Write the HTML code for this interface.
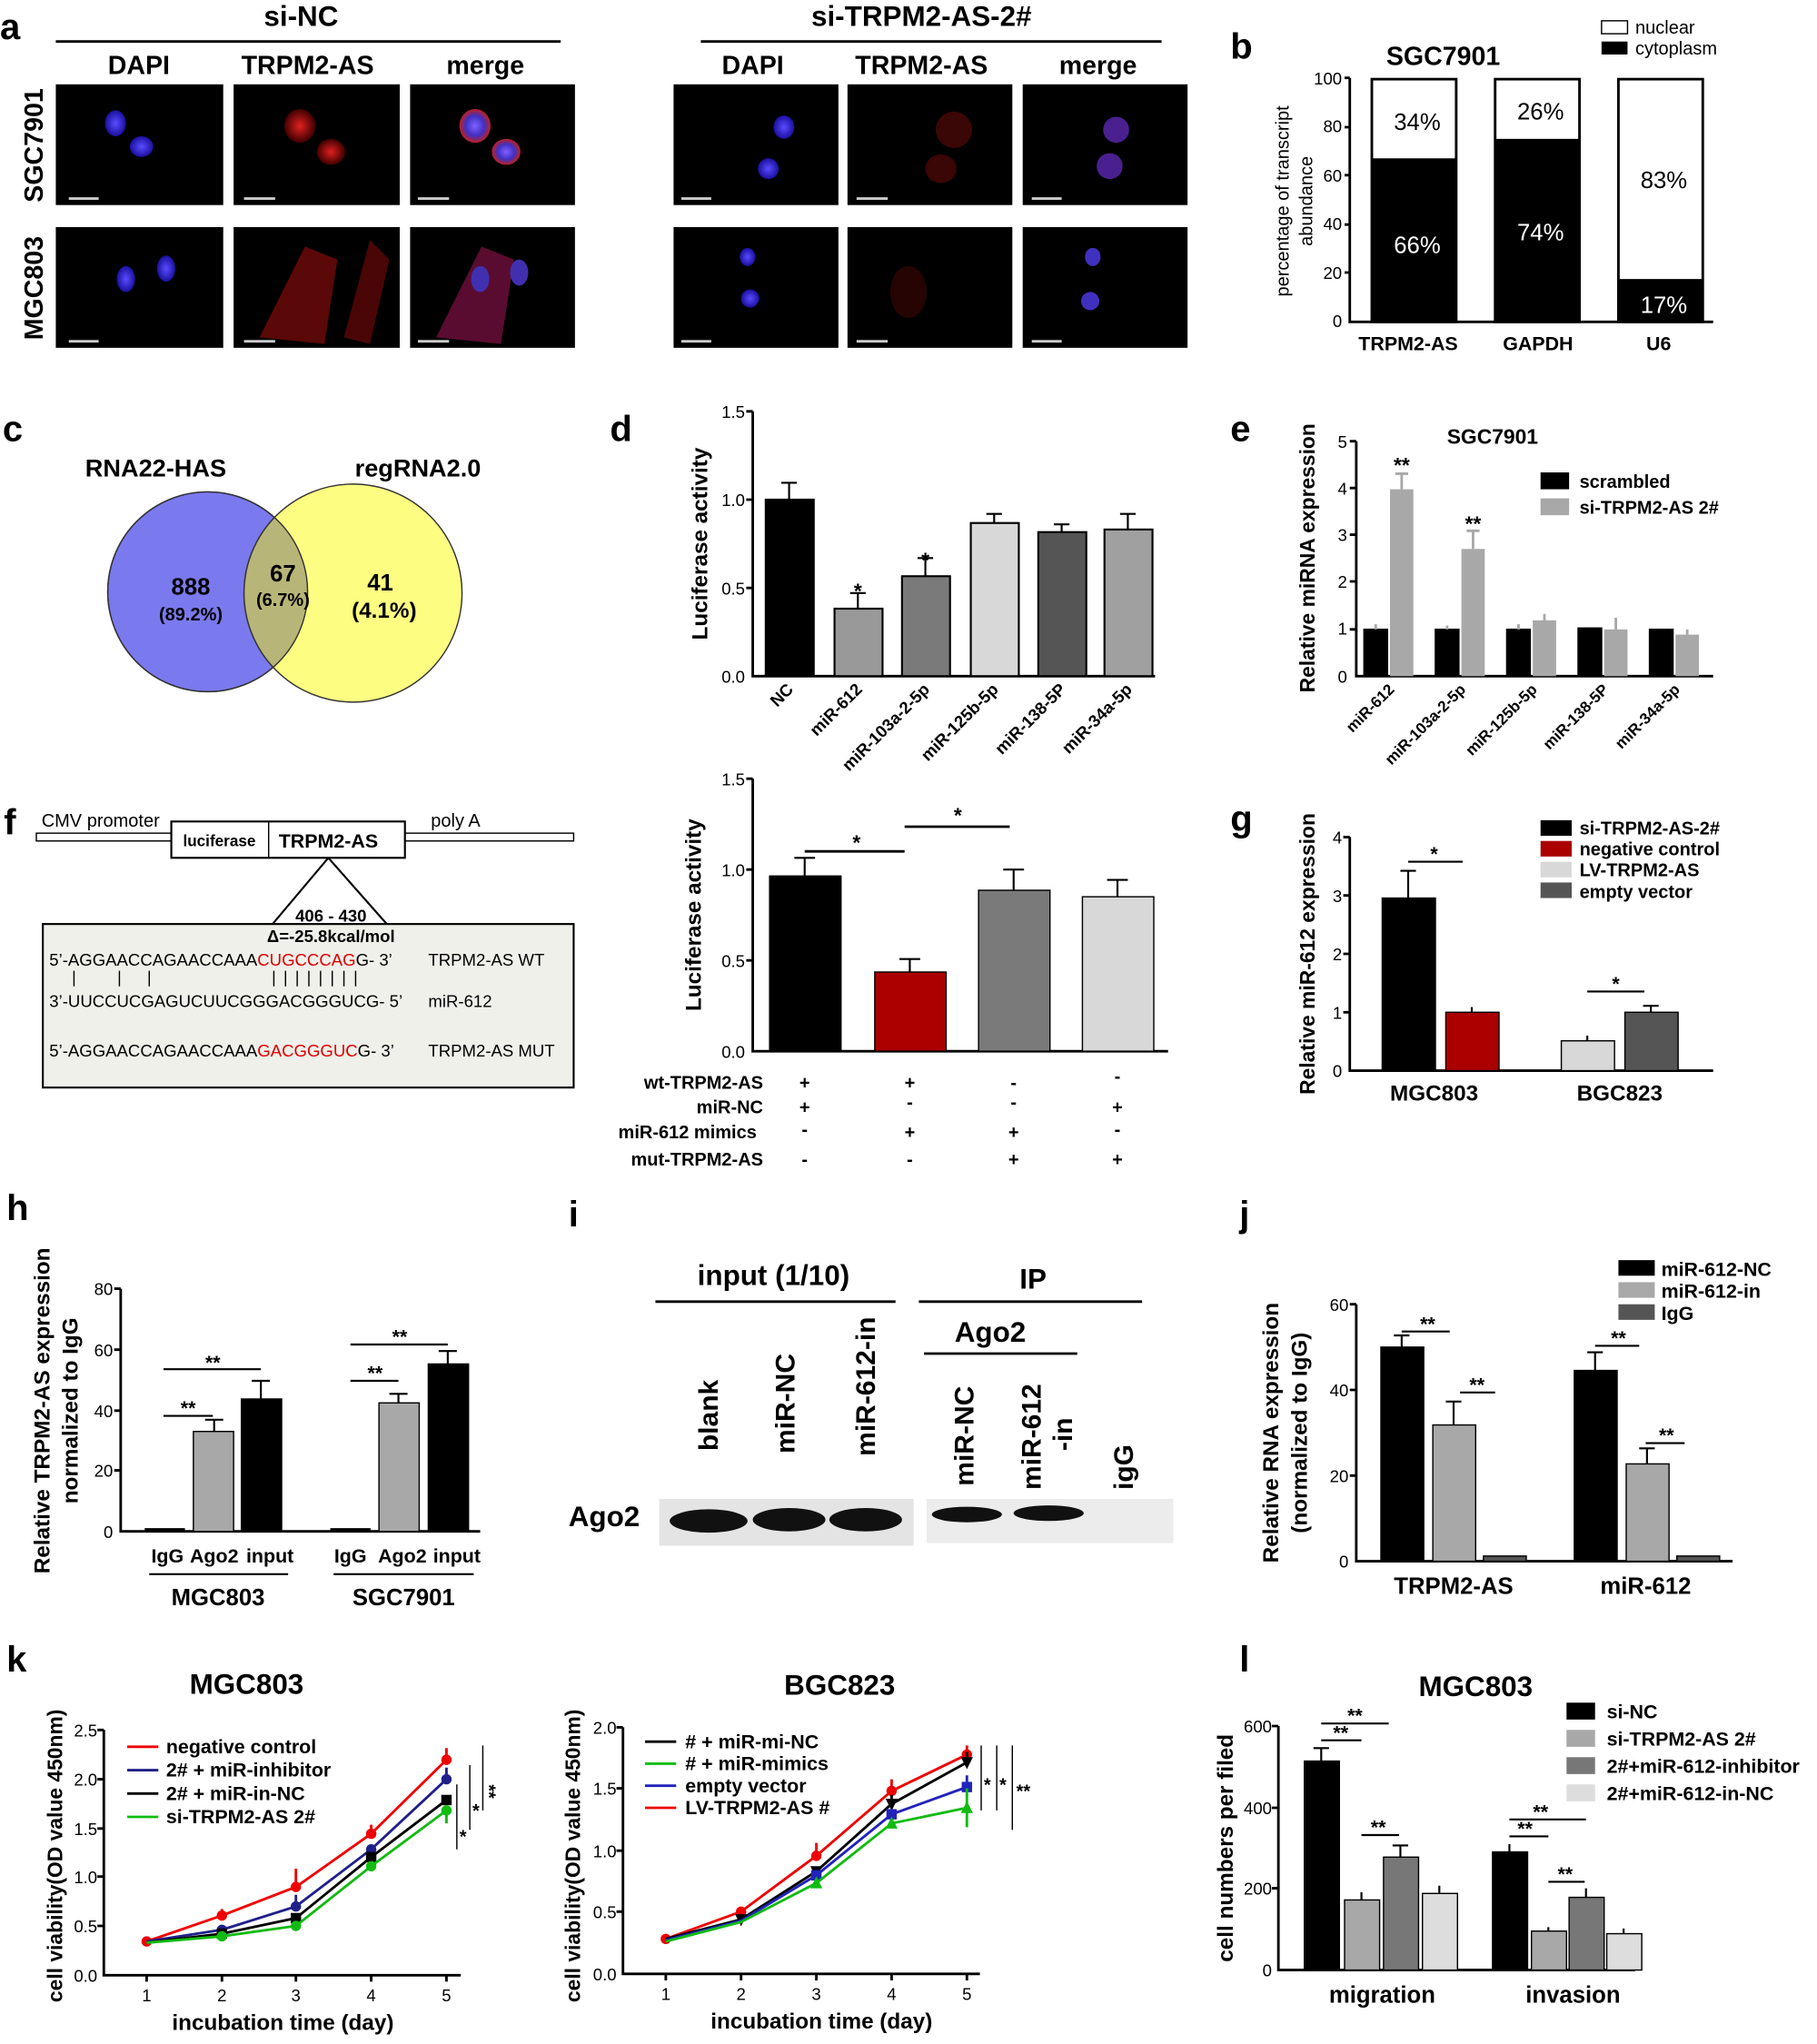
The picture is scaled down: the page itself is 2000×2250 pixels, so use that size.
<!DOCTYPE html>
<html><head><meta charset="utf-8"><style>html,body{margin:0;padding:0;background:#fff}svg{display:block}text{font-family:"Liberation Sans",Arial,sans-serif}</style></head>
<body>
<svg width="2000" height="2250" viewBox="0 0 1400 1575" xmlns="http://www.w3.org/2000/svg">
<defs>
<radialGradient id="bl"><stop offset="0" stop-color="#5a4cff"/><stop offset="1" stop-color="#1a10a0"/></radialGradient>
<radialGradient id="rd"><stop offset="0" stop-color="#e02020"/><stop offset="1" stop-color="#400000"/></radialGradient>
<radialGradient id="mg"><stop offset="0" stop-color="#8060ff"/><stop offset="0.6" stop-color="#4030c0"/><stop offset="1" stop-color="#c02020"/></radialGradient>
<clipPath id="cb"><circle cx="160" cy="456" r="77"/></clipPath>
</defs>
<g font-weight="bold">
<text x="0" y="30" font-size="28">a</text>
<text x="232" y="20" font-size="22" text-anchor="middle">si-NC</text>
<line x1="43" y1="32" x2="432" y2="32" stroke="#000" stroke-width="2"/>
<text x="710" y="20" font-size="22" text-anchor="middle">si-TRPM2-AS-2#</text>
<line x1="540" y1="32" x2="895" y2="32" stroke="#000" stroke-width="2"/>
<g font-size="20" text-anchor="middle">
<text x="107" y="57">DAPI</text><text x="237" y="57">TRPM2-AS</text><text x="374" y="57">merge</text>
<text x="580" y="57">DAPI</text><text x="710" y="57">TRPM2-AS</text><text x="846" y="57">merge</text>
<text transform="translate(33,112) rotate(-90)">SGC7901</text>
<text transform="translate(33,222) rotate(-90)">MGC803</text>
</g>
<g fill="#000">
<rect x="43" y="65" width="129" height="93"/><rect x="180" y="65" width="128" height="93"/><rect x="316" y="65" width="127" height="93"/>
<rect x="43" y="175" width="129" height="93"/><rect x="180" y="175" width="128" height="93"/><rect x="316" y="175" width="127" height="93"/>
<rect x="519" y="65" width="127" height="93"/><rect x="653" y="65" width="127" height="93"/><rect x="788" y="65" width="127" height="93"/>
<rect x="519" y="175" width="127" height="93"/><rect x="653" y="175" width="127" height="93"/><rect x="788" y="175" width="127" height="93"/>
</g>
<ellipse cx="89" cy="95" rx="8" ry="10" fill="url(#bl)"/><ellipse cx="109" cy="113" rx="9" ry="8" fill="url(#bl)"/>
<ellipse cx="231" cy="97" rx="12" ry="13" fill="url(#rd)"/><ellipse cx="255" cy="117" rx="11" ry="10" fill="url(#rd)"/>
<ellipse cx="366" cy="97" rx="12" ry="13" fill="url(#mg)"/><ellipse cx="390" cy="117" rx="11" ry="10" fill="url(#mg)"/>
<ellipse cx="97" cy="215" rx="7" ry="10" fill="url(#bl)"/><ellipse cx="128" cy="207" rx="7" ry="10" fill="url(#bl)"/>
<path d="M200 260 L235 190 L260 200 L250 265 Z" fill="#5a0808"/><path d="M265 260 L285 185 L300 200 L285 265 Z" fill="#4a0606"/>
<path d="M336 260 L371 190 L396 200 L386 265 Z" fill="#5a0c30"/><ellipse cx="370" cy="215" rx="7" ry="10" fill="#4030b0"/><ellipse cx="400" cy="210" rx="7" ry="10" fill="#4030b0"/>
<ellipse cx="604" cy="98" rx="8" ry="9" fill="url(#bl)"/><ellipse cx="592" cy="130" rx="8" ry="8" fill="url(#bl)"/>
<ellipse cx="735" cy="100" rx="14" ry="14" fill="#3a0606"/><ellipse cx="725" cy="130" rx="12" ry="11" fill="#3a0606"/>
<ellipse cx="860" cy="100" rx="10" ry="10" fill="#4a2090"/><ellipse cx="855" cy="128" rx="10" ry="10" fill="#4a2090"/>
<ellipse cx="576" cy="198" rx="6" ry="7" fill="url(#bl)"/><ellipse cx="578" cy="230" rx="7" ry="7" fill="url(#bl)"/>
<ellipse cx="700" cy="225" rx="14" ry="20" fill="#260404"/>
<ellipse cx="842" cy="198" rx="6" ry="7" fill="#4030c0"/><ellipse cx="840" cy="232" rx="7" ry="7" fill="#4030c0"/>
<g stroke="#ccc" stroke-width="2">
<line x1="53" y1="153" x2="76" y2="153"/><line x1="188" y1="153" x2="212" y2="153"/><line x1="322" y1="153" x2="346" y2="153"/>
<line x1="53" y1="263" x2="76" y2="263"/><line x1="188" y1="263" x2="212" y2="263"/><line x1="322" y1="263" x2="346" y2="263"/>
<line x1="525" y1="153" x2="548" y2="153"/><line x1="660" y1="153" x2="684" y2="153"/><line x1="795" y1="153" x2="818" y2="153"/>
<line x1="525" y1="263" x2="548" y2="263"/><line x1="660" y1="263" x2="684" y2="263"/><line x1="795" y1="263" x2="818" y2="263"/>
</g>
</g>
<!-- panel b -->
<text x="948" y="45" font-size="28" font-weight="bold">b</text>
<text x="1112" y="50" font-size="20" font-weight="bold" text-anchor="middle">SGC7901</text>
<rect x="1234" y="16" width="20" height="10" fill="#fff" stroke="#000"/><text x="1260" y="26" font-size="14">nuclear</text>
<rect x="1234" y="32" width="20" height="10" fill="#000"/><text x="1260" y="42" font-size="14">cytoplasm</text>
<g font-size="13" text-anchor="end"><text x="1034" y="65">100</text><text x="1034" y="102">80</text><text x="1034" y="140">60</text><text x="1034" y="177">40</text><text x="1034" y="215">20</text><text x="1034" y="252">0</text></g>
<path d="M1040 60 V248 H1320 M1036 60H1040M1036 98H1040M1036 135H1040M1036 173H1040M1036 210H1040" stroke="#000" stroke-width="2" fill="none"/>
<text transform="translate(993,155) rotate(-90)" font-size="14" text-anchor="middle">percentage of transcript</text>
<text transform="translate(1011,155) rotate(-90)" font-size="14" text-anchor="middle">abundance</text>
<rect x="1057" y="61" width="65" height="187" fill="#fff" stroke="#000" stroke-width="2"/><rect x="1057" y="122" width="65" height="126"/>
<rect x="1152" y="61" width="65" height="187" fill="#fff" stroke="#000" stroke-width="2"/><rect x="1152" y="107" width="65" height="141"/>
<rect x="1247" y="61" width="65" height="187" fill="#fff" stroke="#000" stroke-width="2"/><rect x="1247" y="215" width="65" height="33"/>
<g font-size="18" text-anchor="middle"><text x="1092" y="100">34%</text><text x="1092" y="195" fill="#fff">66%</text>
<text x="1187" y="92">26%</text><text x="1187" y="185" fill="#fff">74%</text><text x="1282" y="145">83%</text><text x="1282" y="241" fill="#fff">17%</text></g>
<g font-size="15" font-weight="bold" text-anchor="middle"><text x="1085" y="270">TRPM2-AS</text><text x="1185" y="270">GAPDH</text><text x="1278" y="270">U6</text></g>
<!-- panel c -->
<text x="2" y="340" font-size="28" font-weight="bold">c</text>
<g font-size="19" font-weight="bold" text-anchor="middle"><text x="120" y="367">RNA22-HAS</text><text x="322" y="367">regRNA2.0</text></g>
<circle cx="160" cy="456" r="77" fill="#7b79ee" stroke="#333"/>
<circle cx="272" cy="457" r="84" fill="#fdfd82" stroke="#333"/>
<circle cx="272" cy="457" r="84" fill="#b8b578" stroke="#333" clip-path="url(#cb)"/>
<circle cx="160" cy="456" r="77" fill="none" stroke="#333"/>
<g font-weight="bold" text-anchor="middle"><text x="147" y="458" font-size="18">888</text><text x="147" y="478" font-size="14">(89.2%)</text>
<text x="218" y="448" font-size="18">67</text><text x="218" y="467" font-size="14">(6.7%)</text>
<text x="293" y="455" font-size="18">41</text><text x="296" y="476" font-size="17">(4.1%)</text></g>
<!-- panel d -->
<text x="470" y="340" font-size="28" font-weight="bold">d</text>
<g font-size="13" text-anchor="end"><text x="574" y="322">1.5</text><text x="574" y="390">1.0</text><text x="574" y="458">0.5</text><text x="574" y="526">0.0</text></g>
<path d="M580 317 V521 H890 M575 317H580M575 385H580M575 453H580" stroke="#000" stroke-width="2" fill="none"/>
<text transform="translate(545,419) rotate(-90)" font-size="17" font-weight="bold" text-anchor="middle">Luciferase activity</text>
<g stroke="#000" stroke-width="1.5">
<rect x="590" y="385" width="37" height="136" fill="#000"/><rect x="643" y="469" width="37" height="52" fill="#999"/><rect x="695" y="444" width="37" height="77" fill="#7a7a7a"/>
<rect x="748" y="403" width="37" height="118" fill="#d8d8d8"/><rect x="800" y="410" width="37" height="111" fill="#555"/><rect x="851" y="408" width="37" height="113" fill="#a0a0a0"/>
<path d="M608 385V372M602 372H614M661 469V457M655 457H667M713 444V430M707 430H719M766 403V396M760 396H772M818 410V404M812 404H824M869 408V396M863 396H875" fill="none"/>
</g>
<g font-size="16" font-weight="bold" text-anchor="middle"><text x="661" y="461">*</text><text x="713" y="437">*</text></g>
<g font-size="13" font-weight="bold" text-anchor="end">
<text transform="translate(612,532) rotate(-45)">NC</text><text transform="translate(665,532) rotate(-45)">miR-612</text><text transform="translate(717,532) rotate(-45)">miR-103a-2-5p</text>
<text transform="translate(770,532) rotate(-45)">miR-125b-5p</text><text transform="translate(822,532) rotate(-45)">miR-138-5P</text><text transform="translate(873,532) rotate(-45)">miR-34a-5p</text></g>
<!-- panel e -->
<text x="948" y="340" font-size="28" font-weight="bold">e</text>
<text x="1150" y="342" font-size="16" font-weight="bold" text-anchor="middle">SGC7901</text>
<g font-size="13" text-anchor="end"><text x="1038" y="345">5</text><text x="1038" y="381">4</text><text x="1038" y="417">3</text><text x="1038" y="453">2</text><text x="1038" y="489">1</text><text x="1038" y="526">0</text></g>
<path d="M1045 340 V521 H1320 M1040 340H1045M1040 376H1045M1040 412H1045M1040 448H1045M1040 485H1045" stroke="#000" stroke-width="2" fill="none"/>
<text transform="translate(1013,430) rotate(-90)" font-size="16" font-weight="bold" text-anchor="middle">Relative miRNA expression</text>
<rect x="1187" y="364" width="22" height="13"/><text x="1217" y="376" font-size="14" font-weight="bold">scrambled</text>
<rect x="1187" y="384" width="22" height="13" fill="#a8a8a8"/><text x="1217" y="396" font-size="14" font-weight="bold">si-TRPM2-AS 2#</text>
<g stroke="#000" stroke-width="1.2">
<rect x="1051" y="485" width="18" height="36"/><rect x="1071" y="377" width="18" height="144" fill="#a8a8a8" stroke="none"/>
<rect x="1106" y="485" width="18" height="36"/><rect x="1126" y="423" width="18" height="98" fill="#a8a8a8" stroke="none"/>
<rect x="1161" y="485" width="18" height="36"/><rect x="1181" y="478" width="18" height="43" fill="#a8a8a8" stroke="none"/>
<rect x="1216" y="484" width="18" height="37"/><rect x="1236" y="485" width="18" height="36" fill="#a8a8a8" stroke="none"/>
<rect x="1271" y="485" width="18" height="36"/><rect x="1291" y="489" width="18" height="32" fill="#a8a8a8" stroke="none"/>
<path d="M1080 377V365M1075 365H1085M1135 423V409M1130 409H1140M1190 478V473M1245 485V476M1300 489V485M1060 485V481M1115 485V482M1170 485V481" stroke="#a8a8a8" stroke-width="2" fill="none"/>
</g>
<g font-size="16" font-weight="bold" text-anchor="middle"><text x="1080" y="364">**</text><text x="1135" y="409">**</text></g>
<g font-size="12" font-weight="bold" text-anchor="end">
<text transform="translate(1075,532) rotate(-45)">miR-612</text><text transform="translate(1130,532) rotate(-45)">miR-103a-2-5p</text><text transform="translate(1185,532) rotate(-45)">miR-125b-5p</text>
<text transform="translate(1240,532) rotate(-45)">miR-138-5P</text><text transform="translate(1295,532) rotate(-45)">miR-34a-5p</text></g>
<!-- panel f -->
<text x="3" y="643" font-size="28" font-weight="bold">f</text>
<rect x="28" y="642" width="414" height="6" fill="#fff" stroke="#000"/>
<text x="32" y="637" font-size="14">CMV promoter</text><text x="332" y="637" font-size="14">poly A</text>
<rect x="132" y="633" width="180" height="28" fill="#fff" stroke="#000" stroke-width="1.5"/><line x1="207" y1="633" x2="207" y2="661" stroke="#000"/>
<text x="169" y="652" font-size="12" font-weight="bold" text-anchor="middle">luciferase</text><text x="253" y="653" font-size="15" font-weight="bold" text-anchor="middle">TRPM2-AS</text>
<path d="M253 661 L210 712 M253 661 L298 712" stroke="#000" stroke-width="1.5"/>
<rect x="33" y="712" width="409" height="126" fill="#f0f0ea" stroke="#000" stroke-width="1.5"/>
<text x="255" y="710" font-size="13" font-weight="bold" text-anchor="middle">406 - 430</text>
<text x="255" y="726" font-size="13" font-weight="bold" text-anchor="middle">Δ=-25.8kcal/mol</text>
<g font-size="13" font-family="Liberation Sans">
<text x="38" y="744">5’-AGGAACCAGAACCAAA<tspan fill="#d00">CUGCCCAG</tspan>G- 3’</text><text x="330" y="744">TRPM2-AS WT</text>
<text x="38" y="776">3’-UUCCUCGAGUCUUCGGGACGGGUCG- 5’</text><text x="330" y="776">miR-612</text>
<text x="38" y="814">5’-AGGAACCAGAACCAAA<tspan fill="#d00">GACGGGUC</tspan>G- 3’</text><text x="330" y="814">TRPM2-AS MUT</text>
</g>
<path d="M57 748V760M92 748V760M115 748V760M211 748V760M220 748V760M229 748V760M238 748V760M247 748V760M256 748V760M265 748V760M274 748V760" stroke="#000"/>
<!-- panel d2 -->
<g font-size="13" text-anchor="end"><text x="574" y="605">1.5</text><text x="574" y="675">1.0</text><text x="574" y="745">0.5</text><text x="574" y="815">0.0</text></g>
<path d="M580 600 V810 H900 M575 600H580M575 670H580M575 740H580" stroke="#000" stroke-width="2" fill="none"/>
<text transform="translate(540,705) rotate(-90)" font-size="17" font-weight="bold" text-anchor="middle">Luciferase activity</text>
<rect x="593" y="675" width="55" height="135" stroke="#000"/><rect x="674" y="749" width="55" height="61" fill="#a00" stroke="#000"/>
<rect x="754" y="686" width="55" height="124" fill="#7a7a7a" stroke="#000"/><rect x="834" y="691" width="55" height="119" fill="#d8d8d8" stroke="#000"/>
<path d="M620 675V661M612 661H628M701 749V739M693 739H709M781 686V670M773 670H789M861 691V678M853 678H869" stroke="#000" stroke-width="1.5" fill="none"/>
<path d="M620 656H697M697 637H778" stroke="#000" stroke-width="2"/>
<g font-size="16" font-weight="bold" text-anchor="middle"><text x="660" y="655">*</text><text x="738" y="634">*</text></g>
<g font-size="14" font-weight="bold"><text x="588" y="839" text-anchor="end">wt-TRPM2-AS</text><text x="588" y="858" text-anchor="end">miR-NC</text><text x="583" y="877" text-anchor="end">miR-612 mimics</text><text x="588" y="898" text-anchor="end">mut-TRPM2-AS</text>
<g text-anchor="middle"><text x="620" y="839">+</text><text x="701" y="839">+</text><text x="781" y="839">-</text><text x="861" y="834">-</text>
<text x="620" y="858">+</text><text x="701" y="854">-</text><text x="781" y="854">-</text><text x="861" y="858">+</text>
<text x="620" y="875">-</text><text x="701" y="877">+</text><text x="781" y="877">+</text><text x="861" y="875">-</text>
<text x="620" y="898">-</text><text x="701" y="898">-</text><text x="781" y="898">+</text><text x="861" y="898">+</text></g></g>
<!-- panel g -->
<text x="948" y="640" font-size="28" font-weight="bold">g</text>
<g font-size="13" text-anchor="end"><text x="1034" y="650">4</text><text x="1034" y="695">3</text><text x="1034" y="740">2</text><text x="1034" y="785">1</text><text x="1034" y="830">0</text></g>
<path d="M1040 645 V825 H1320 M1035 645H1040M1035 690H1040M1035 735H1040M1035 780H1040" stroke="#000" stroke-width="2" fill="none"/>
<text transform="translate(1013,735) rotate(-90)" font-size="16" font-weight="bold" text-anchor="middle">Relative miR-612 expression</text>
<g font-size="14" font-weight="bold"><rect x="1187" y="632" width="24" height="12"/><text x="1217" y="643">si-TRPM2-AS-2#</text>
<rect x="1187" y="648" width="24" height="12" fill="#a00"/><text x="1217" y="659">negative control</text>
<rect x="1187" y="664" width="24" height="12" fill="#d8d8d8"/><text x="1217" y="675">LV-TRPM2-AS</text>
<rect x="1187" y="680" width="24" height="12" fill="#555"/><text x="1217" y="692">empty vector</text></g>
<rect x="1065" y="692" width="41" height="133" stroke="#000"/><rect x="1114" y="780" width="41" height="45" fill="#a00" stroke="#000"/>
<rect x="1203" y="802" width="41" height="23" fill="#d8d8d8" stroke="#000"/><rect x="1252" y="780" width="41" height="45" fill="#555" stroke="#000"/>
<path d="M1085 692V671M1079 671H1091M1134 780V776M1223 802V798M1272 780V775M1266 775H1278" stroke="#000" stroke-width="1.5" fill="none"/>
<path d="M1085 664H1127M1223 764H1267" stroke="#000" stroke-width="1.5"/>
<g font-size="15" font-weight="bold" text-anchor="middle"><text x="1105" y="663">*</text><text x="1245" y="763">*</text><text x="1105" y="848" font-size="17">MGC803</text><text x="1248" y="848" font-size="17">BGC823</text></g>
<!-- panel h -->
<text x="5" y="940" font-size="28" font-weight="bold">h</text>
<g font-size="13" text-anchor="end"><text x="87" y="998">80</text><text x="87" y="1045">60</text><text x="87" y="1092">40</text><text x="87" y="1138">20</text><text x="87" y="1185">0</text></g>
<path d="M93 993 V1180 H370 M88 993H93M88 1040H93M88 1087H93M88 1133H93" stroke="#000" stroke-width="2" fill="none"/>
<text transform="translate(38,1087) rotate(-90)" font-size="17" font-weight="bold" text-anchor="middle">Relative TRPM2-AS expression</text>
<text transform="translate(60,1087) rotate(-90)" font-size="17" font-weight="bold" text-anchor="middle">normalized to IgG</text>
<rect x="112" y="1178" width="30" height="2" stroke="#000"/><rect x="149" y="1103" width="31" height="77" fill="#a8a8a8" stroke="#000"/><rect x="186" y="1078" width="31" height="102" stroke="#000"/>
<rect x="255" y="1178" width="30" height="2" stroke="#000"/><rect x="292" y="1081" width="31" height="99" fill="#a8a8a8" stroke="#000"/><rect x="330" y="1051" width="31" height="129" stroke="#000"/>
<path d="M165 1103V1094M158 1094H172M201 1078V1064M194 1064H208M307 1081V1074M300 1074H314M345 1051V1041M338 1041H352" stroke="#000" stroke-width="1.5" fill="none"/>
<path d="M126 1091H164M126 1055H201M270 1064H307M270 1036H345" stroke="#000" stroke-width="1.5"/>
<g font-size="15" font-weight="bold" text-anchor="middle"><text x="145" y="1090">**</text><text x="164" y="1055">**</text><text x="289" y="1063">**</text><text x="308" y="1035">**</text>
<g font-size="15"><text x="129" y="1204">IgG</text><text x="165" y="1204">Ago2</text><text x="208" y="1204">input</text><text x="270" y="1204">IgG</text><text x="310" y="1204">Ago2</text><text x="352" y="1204">input</text></g>
<text x="168" y="1237" font-size="18">MGC803</text><text x="311" y="1237" font-size="18">SGC7901</text></g>
<path d="M115 1213H222M257 1213H365" stroke="#000" stroke-width="1.5"/>
<!-- panel i -->
<text x="438" y="945" font-size="28" font-weight="bold">i</text>
<text x="596" y="990" font-size="22" font-weight="bold" text-anchor="middle">input (1/10)</text>
<text x="796" y="993" font-size="22" font-weight="bold" text-anchor="middle">IP</text>
<path d="M505 1003H690M708 1003H880M712 1043H830" stroke="#000" stroke-width="2"/>
<text x="763" y="1034" font-size="22" font-weight="bold" text-anchor="middle">Ago2</text>
<g font-size="21" font-weight="bold"><text transform="translate(553,1118) rotate(-90)">blank</text><text transform="translate(612,1120) rotate(-90)">miR-NC</text><text transform="translate(674,1122) rotate(-90)">miR-612-in</text>
<text transform="translate(750,1145) rotate(-90)">miR-NC</text><text transform="translate(802,1148) rotate(-90)">miR-612</text><text transform="translate(826,1118) rotate(-90)">-in</text><text transform="translate(873,1148) rotate(-90)">igG</text></g>
<text x="438" y="1176" font-size="22" font-weight="bold">Ago2</text>
<rect x="508" y="1155" width="196" height="36" fill="#e4e4e4"/><rect x="714" y="1155" width="190" height="34" fill="#ececec"/>
<ellipse cx="546" cy="1172" rx="30" ry="9" fill="#111"/><ellipse cx="608" cy="1171" rx="28" ry="9" fill="#111"/><ellipse cx="667" cy="1171" rx="28" ry="9" fill="#111"/>
<ellipse cx="745" cy="1167" rx="27" ry="6" fill="#111"/><ellipse cx="808" cy="1166" rx="27" ry="6" fill="#111"/>
<!-- panel j -->
<text x="955" y="945" font-size="28" font-weight="bold">j</text>
<g font-size="15" font-weight="bold"><rect x="1247" y="971" width="28" height="12"/><text x="1280" y="983">miR-612-NC</text>
<rect x="1247" y="988" width="28" height="12" fill="#a8a8a8"/><text x="1280" y="1000">miR-612-in</text>
<rect x="1247" y="1005" width="28" height="12" fill="#555"/><text x="1280" y="1017">IgG</text></g>
<g font-size="13" text-anchor="end"><text x="1039" y="1010">60</text><text x="1039" y="1076">40</text><text x="1039" y="1142">20</text><text x="1039" y="1208">0</text></g>
<path d="M1045 1005 V1203 H1335 M1040 1005H1045M1040 1071H1045M1040 1137H1045" stroke="#000" stroke-width="2" fill="none"/>
<text transform="translate(985,1104) rotate(-90)" font-size="17" font-weight="bold" text-anchor="middle">Relative RNA expression</text>
<text transform="translate(1007,1104) rotate(-90)" font-size="17" font-weight="bold" text-anchor="middle">(normalized to IgG)</text>
<rect x="1064" y="1038" width="33" height="165" stroke="#000"/><rect x="1104" y="1098" width="33" height="105" fill="#a8a8a8" stroke="#000"/><rect x="1143" y="1199" width="33" height="4" fill="#555" stroke="#000"/>
<rect x="1213" y="1056" width="33" height="147" stroke="#000"/><rect x="1253" y="1128" width="33" height="75" fill="#a8a8a8" stroke="#000"/><rect x="1292" y="1199" width="33" height="4" fill="#555" stroke="#000"/>
<path d="M1080 1038V1029M1074 1029H1086M1120 1098V1080M1114 1080H1126M1229 1056V1042M1223 1042H1235M1269 1128V1116M1263 1116H1275" stroke="#000" stroke-width="1.5" fill="none"/>
<path d="M1080 1026H1117M1125 1073H1152M1229 1037H1263M1268 1112H1298" stroke="#000" stroke-width="1.5"/>
<g font-size="15" font-weight="bold" text-anchor="middle"><text x="1100" y="1025">**</text><text x="1138" y="1072">**</text><text x="1247" y="1036">**</text><text x="1284" y="1111">**</text>
<text x="1120" y="1228" font-size="18">TRPM2-AS</text><text x="1268" y="1228" font-size="18">miR-612</text></g>
<!-- panel k -->
<text x="5" y="1288" font-size="28" font-weight="bold">k</text>
<text x="190" y="1305" font-size="22" font-weight="bold" text-anchor="middle">MGC803</text>
<text x="647" y="1306" font-size="22" font-weight="bold" text-anchor="middle">BGC823</text>
<g font-size="13" text-anchor="end"><text x="75" y="1338">2.5</text><text x="75" y="1376">2.0</text><text x="75" y="1414">1.5</text><text x="75" y="1451">1.0</text><text x="75" y="1489">0.5</text><text x="75" y="1527">0.0</text></g>
<path d="M80 1333 V1522 H355 M75 1333H80M75 1371H80M75 1409H80M75 1446H80M75 1484H80M113 1522V1527M171 1522V1527M228 1522V1527M286 1522V1527M344 1522V1527" stroke="#000" stroke-width="2" fill="none"/>
<g font-size="13" text-anchor="middle"><text x="113" y="1542">1</text><text x="171" y="1542">2</text><text x="228" y="1542">3</text><text x="286" y="1542">4</text><text x="344" y="1542">5</text></g>
<text x="218" y="1564" font-size="17" font-weight="bold" text-anchor="middle">incubation time (day)</text>
<text transform="translate(48,1430) rotate(-90)" font-size="16" font-weight="bold" text-anchor="middle">cell viability(OD value 450nm)</text>
<g stroke-width="2">
<g stroke="#e00" fill="#e00"><polyline fill="none" points="113,1496 171,1476 228,1454 286,1413 344,1356"/><path d="M228 1454V1440M344 1356V1347M286 1413V1406M171 1476V1471"/>
<circle cx="113" cy="1496" r="3"/><circle cx="171" cy="1476" r="3"/><circle cx="228" cy="1454" r="3"/><circle cx="286" cy="1413" r="3"/><circle cx="344" cy="1356" r="3"/></g>
<g stroke="#20208a" fill="#20208a"><polyline fill="none" points="113,1496 171,1487 228,1469 286,1425 344,1371"/><path d="M228 1469V1460M344 1371V1362"/>
<circle cx="171" cy="1487" r="3"/><circle cx="228" cy="1469" r="3"/><circle cx="286" cy="1425" r="3"/><circle cx="344" cy="1371" r="3"/></g>
<g stroke="#000" fill="#000"><polyline fill="none" points="113,1497 171,1490 228,1478 286,1431 344,1387"/>
<rect x="168" y="1487" width="6" height="6"/><rect x="225" y="1475" width="6" height="6"/><rect x="283" y="1428" width="6" height="6"/><rect x="341" y="1384" width="6" height="6"/></g>
<g stroke="#1b1" fill="#1b1"><polyline fill="none" points="113,1497 171,1492 228,1484 286,1438 344,1395"/><path d="M344 1395V1405"/>
<circle cx="171" cy="1492" r="3"/><circle cx="228" cy="1484" r="3"/><circle cx="286" cy="1438" r="3"/><circle cx="344" cy="1395" r="3"/></g>
</g>
<g font-size="15" font-weight="bold"><line x1="98" y1="1346" x2="122" y2="1346" stroke="#e00" stroke-width="2"/><text x="128" y="1351">negative control</text>
<line x1="98" y1="1364" x2="122" y2="1364" stroke="#20208a" stroke-width="2"/><text x="128" y="1369">2# + miR-inhibitor</text>
<line x1="98" y1="1382" x2="122" y2="1382" stroke="#000" stroke-width="2"/><text x="128" y="1387">2# + miR-in-NC</text>
<line x1="98" y1="1400" x2="122" y2="1400" stroke="#1b1" stroke-width="2"/><text x="128" y="1405">si-TRPM2-AS 2#</text></g>
<path d="M352 1375V1425M362 1360V1410M372 1345V1395" stroke="#000"/>
<g font-size="14" font-weight="bold"><text x="354" y="1420">*</text><text x="364" y="1400">*</text><text x="375" y="1388" transform="rotate(90 380 1380)">**</text></g>
<g font-size="13" text-anchor="end"><text x="475" y="1336">2.0</text><text x="475" y="1383">1.5</text><text x="475" y="1431">1.0</text><text x="475" y="1478">0.5</text><text x="475" y="1526">0.0</text></g>
<path d="M480 1331 V1521 H755 M475 1331H480M475 1378H480M475 1426H480M475 1473H480M513 1521V1526M571 1521V1526M629 1521V1526M687 1521V1526M745 1521V1526" stroke="#000" stroke-width="2" fill="none"/>
<g font-size="13" text-anchor="middle"><text x="513" y="1541">1</text><text x="571" y="1541">2</text><text x="629" y="1541">3</text><text x="687" y="1541">4</text><text x="745" y="1541">5</text></g>
<text x="633" y="1563" font-size="17" font-weight="bold" text-anchor="middle">incubation time (day)</text>
<text transform="translate(447,1430) rotate(-90)" font-size="16" font-weight="bold" text-anchor="middle">cell viability(OD value 450nm)</text>
<g stroke-width="2">
<g stroke="#e00" fill="#e00"><polyline fill="none" points="513,1494 571,1473 629,1430 687,1380 745,1352"/><path d="M629 1430V1420M687 1380V1371M745 1352V1345"/>
<circle cx="513" cy="1494" r="3"/><circle cx="571" cy="1473" r="3"/><circle cx="629" cy="1430" r="3"/><circle cx="687" cy="1380" r="3"/><circle cx="745" cy="1352" r="3"/></g>
<g stroke="#000" fill="#000"><polyline fill="none" points="513,1494 571,1479 629,1442 687,1390 745,1358"/><path d="M687 1390V1383M745 1358V1350"/>
<path d="M568 1476h6l-3 6z M626 1439h6l-3 6z M684 1387h6l-3 6z M742 1355h6l-3 6z"/></g>
<g stroke="#22b" fill="#22b"><polyline fill="none" points="513,1495 571,1480 629,1445 687,1398 745,1377"/><path d="M745 1377V1368"/>
<rect x="626" y="1442" width="6" height="6"/><rect x="684" y="1395" width="6" height="6"/><rect x="742" y="1374" width="6" height="6"/></g>
<g stroke="#1b1" fill="#1b1"><polyline fill="none" points="513,1496 571,1481 629,1451 687,1405 745,1393"/><path d="M745 1393V1378M745 1393V1408"/>
<path d="M626 1454h6l-3 -6z M684 1408h6l-3 -6z M742 1396h6l-3 -6z"/></g>
</g>
<g font-size="15" font-weight="bold"><line x1="497" y1="1342" x2="521" y2="1342" stroke="#000" stroke-width="2"/><text x="528" y="1347"># + miR-mi-NC</text>
<line x1="497" y1="1359" x2="521" y2="1359" stroke="#1b1" stroke-width="2"/><text x="528" y="1364"># + miR-mimics</text>
<line x1="497" y1="1376" x2="521" y2="1376" stroke="#22b" stroke-width="2"/><text x="528" y="1381">empty vector</text>
<line x1="497" y1="1393" x2="521" y2="1393" stroke="#e00" stroke-width="2"/><text x="528" y="1398">LV-TRPM2-AS #</text></g>
<path d="M756 1345V1395M768 1345V1395M780 1345V1410" stroke="#000"/>
<g font-size="14" font-weight="bold"><text x="758" y="1380">*</text><text x="770" y="1380">*</text><text x="783" y="1385">**</text></g>
<!-- panel l -->
<text x="955" y="1288" font-size="28" font-weight="bold">l</text>
<text x="1137" y="1307" font-size="22" font-weight="bold" text-anchor="middle">MGC803</text>
<g font-size="15" font-weight="bold"><rect x="1207" y="1312" width="22" height="13"/><text x="1238" y="1324">si-NC</text>
<rect x="1207" y="1333" width="22" height="13" fill="#a8a8a8"/><text x="1238" y="1345">si-TRPM2-AS 2#</text>
<rect x="1207" y="1354" width="22" height="13" fill="#777"/><text x="1238" y="1366">2#+miR-612-inhibitor</text>
<rect x="1207" y="1375" width="22" height="13" fill="#ddd"/><text x="1238" y="1387">2#+miR-612-in-NC</text></g>
<g font-size="13" text-anchor="end"><text x="980" y="1335">600</text><text x="980" y="1398">400</text><text x="980" y="1460">200</text><text x="980" y="1523">0</text></g>
<path d="M985 1330 V1518 H1260 M980 1330H985M980 1393H985M980 1455H985" stroke="#000" stroke-width="2" fill="none"/>
<text transform="translate(950,1424) rotate(-90)" font-size="17" font-weight="bold" text-anchor="middle">cell numbers per filed</text>
<rect x="1005" y="1357" width="27" height="161" stroke="#000"/><rect x="1036" y="1464" width="27" height="54" fill="#a8a8a8" stroke="#000"/>
<rect x="1066" y="1431" width="27" height="87" fill="#777" stroke="#000"/><rect x="1096" y="1459" width="27" height="59" fill="#ddd" stroke="#000"/>
<rect x="1150" y="1427" width="27" height="91" stroke="#000"/><rect x="1180" y="1488" width="27" height="30" fill="#a8a8a8" stroke="#000"/>
<rect x="1209" y="1462" width="27" height="56" fill="#777" stroke="#000"/><rect x="1238" y="1490" width="27" height="28" fill="#ddd" stroke="#000"/>
<path d="M1018 1357V1347M1012 1347H1024M1049 1464V1458M1079 1431V1422M1073 1422H1085M1109 1459V1453M1163 1427V1421M1193 1488V1485M1222 1462V1455M1251 1490V1486" stroke="#000" stroke-width="1.5" fill="none"/>
<path d="M1018 1341H1049M1018 1328H1070M1049 1414H1078M1163 1415H1193M1163 1402H1222M1193 1450H1221" stroke="#000" stroke-width="1.5"/>
<g font-size="15" font-weight="bold" text-anchor="middle"><text x="1033" y="1340">**</text><text x="1044" y="1327">**</text><text x="1062" y="1413">**</text><text x="1175" y="1414">**</text><text x="1187" y="1401">**</text><text x="1206" y="1449">**</text>
<text x="1065" y="1543" font-size="18">migration</text><text x="1212" y="1543" font-size="18">invasion</text></g>
</svg>
</body></html>
